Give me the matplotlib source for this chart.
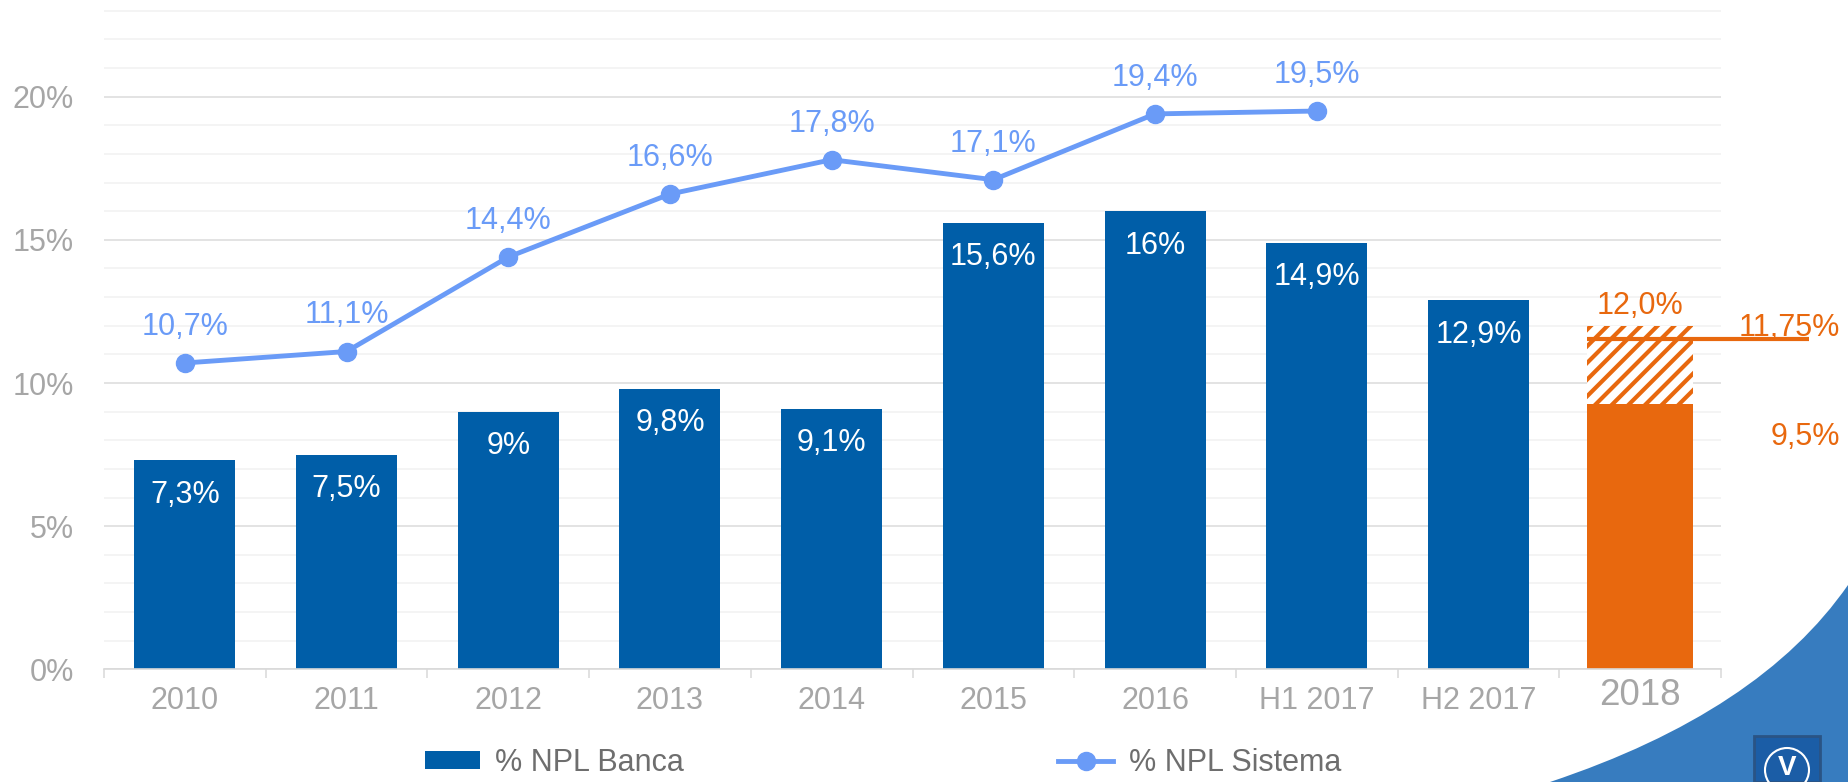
import matplotlib
matplotlib.use('Agg')
import matplotlib.pyplot as plt
from matplotlib.patches import PathPatch, Rectangle, Circle
from matplotlib.path import Path
from matplotlib.ticker import MultipleLocator, FixedLocator

# Data
categories = ['2010', '2011', '2012', '2013', '2014', '2015', '2016',
              'H1 2017', 'H2 2017', '2018']
npl_banca = [7.3, 7.5, 9.0, 9.8, 9.1, 15.6, 16.0, 14.9, 12.9]
banca_labels = ['7,3%', '7,5%', '9%', '9,8%', '9,1%', '15,6%', '16%',
                '14,9%', '12,9%']
npl_sistema = [10.7, 11.1, 14.4, 16.6, 17.8, 17.1, 19.4, 19.5]
sistema_labels = ['10,7%', '11,1%', '14,4%', '16,6%', '17,8%', '17,1%',
                  '19,4%', '19,5%']
# 2018 target: solid part, hatched range top, target line
target_low = 9.27
target_high = 12.0
target_line = 11.55
target_low_label = '9,5%'
target_high_label = '12,0%'
target_line_label = '11,75%'

blue = '#005EA8'
light_blue = '#6A9BF7'
orange = '#E8680E'
tick_grey = '#A6A6A6'

plt.rcParams['font.family'] = ['Liberation Sans', 'DejaVu Sans']
plt.rcParams['hatch.color'] = orange
plt.rcParams['hatch.linewidth'] = 3.0

W, H = 1848, 782
fig = plt.figure(figsize=(W / 100, H / 100), dpi=100)
ax = fig.add_axes([104 / W, 1 - 669.3 / H, 1617 / W, 659.9 / H])

xs = list(range(len(npl_banca)))
bars = ax.bar(xs, npl_banca, width=0.625, color=blue, zorder=2,
              label='% NPL Banca')

i18 = categories.index('2018')
w18 = 0.655
ax.bar(i18, target_low, width=w18, color=orange, zorder=2)
ax.bar(i18, target_high - target_low, bottom=target_low, width=w18,
       facecolor='white', edgecolor=orange, linewidth=0, hatch='//', zorder=2)
ax.plot([i18 - w18 / 2, 10.045], [target_line, target_line], color=orange,
        lw=3, solid_capstyle='butt', clip_on=False, zorder=3)

line, = ax.plot(range(len(npl_sistema)), npl_sistema, color=light_blue,
                lw=3.5, marker='o', ms=13, zorder=4, label='% NPL Sistema')

for x, v, lbl in zip(xs, npl_banca, banca_labels):
    ax.annotate(lbl, (x, v), xytext=(0, -25), textcoords='offset points',
                ha='center', va='center', color='white', fontsize=22,
                zorder=5)
for x, v, lbl in zip(range(len(npl_sistema)), npl_sistema, sistema_labels):
    ax.annotate(lbl, (x, v), xytext=(0, 26), textcoords='offset points',
                ha='center', va='center', color=light_blue, fontsize=22,
                zorder=5)

ax.annotate(target_high_label, (i18, target_high), xytext=(0, 14),
            textcoords='offset points', ha='center', va='center',
            color=orange, fontsize=22)
ax.annotate(target_line_label, (10.236, target_line), xytext=(0, 8),
            textcoords='offset points', ha='right', va='center',
            color=orange, fontsize=22, annotation_clip=False)
ax.annotate(target_low_label, (10.236, target_low), xytext=(0, -24),
            textcoords='offset points', ha='right', va='center',
            color=orange, fontsize=22, annotation_clip=False)

# axes styling
ax.set_xlim(-0.5, 9.5)
ax.set_ylim(0, 23.05)
ax.yaxis.set_minor_locator(MultipleLocator(1))
ax.set_yticks(range(0, 21, 5))
ax.set_yticklabels(['%d%%' % t for t in range(0, 21, 5)])
ax.set_axisbelow(True)
ax.grid(axis='y', which='major', color='#DEDEDE', lw=1.2, zorder=0)
ax.grid(axis='y', which='minor', color='#F2F2F2', lw=1.2, zorder=0)
ax.tick_params(axis='y', which='both', length=0, pad=21.6, labelsize=22,
               labelcolor=tick_grey)

ax.set_xticks(range(len(categories)))
ax.set_xticklabels(categories[:-1] + [''])
ax.xaxis.set_minor_locator(FixedLocator([i - 0.5 for i in range(11)]))
ax.tick_params(axis='x', which='major', length=0, pad=12, labelsize=22,
               labelcolor=tick_grey)
ax.tick_params(axis='x', which='minor', length=6.5, width=1.1,
               color='#D9D9D9')
ax.annotate(categories[-1], (i18, 0), xytext=(0, -6), textcoords='offset points',
            ha='center', va='top', fontsize=26.5, color=tick_grey,
            annotation_clip=False)

for s in ['top', 'left', 'right']:
    ax.spines[s].set_visible(False)
ax.spines['bottom'].set_color('#D9D9D9')
ax.spines['bottom'].set_linewidth(1.2)

fig.legend([bars, line], ['% NPL Banca', '% NPL Sistema'], loc='center',
           bbox_to_anchor=(883 / W, 1 - 763 / H), ncol=2, frameon=False,
           borderpad=0, fontsize=22, labelcolor='#6E6E6E', handlelength=1.8,
           handleheight=0.55, handletextpad=0.5, columnspacing=12.25)


# decorative corner swoosh and logo
def fp(x, y):
    return (x / W, 1 - y / H)


swoosh = Path([fp(1550, 782), fp(1760, 712), fp(1848, 585), fp(1848, 782),
               fp(1550, 782)],
              [Path.MOVETO, Path.CURVE3, Path.CURVE3, Path.LINETO,
               Path.CLOSEPOLY])
fig.add_artist(PathPatch(swoosh, transform=fig.transFigure,
                         facecolor='#377CBF', edgecolor='none', zorder=0))
fig.add_artist(Rectangle(fp(1754, 782), 66 / W, 46 / H,
                         transform=fig.transFigure, facecolor='#1B5DA6',
                         edgecolor='#2A5485', lw=2))
fig.add_artist(Circle((17.87, 0.12), 0.22, transform=fig.dpi_scale_trans,
                      facecolor='none', edgecolor='white', lw=1.5))
fig.text(1787 / W, 1 - 768 / H, 'V', color='white', fontsize=20,
         fontweight='bold', ha='center', va='center')

fig.savefig('out.png', dpi=100)
